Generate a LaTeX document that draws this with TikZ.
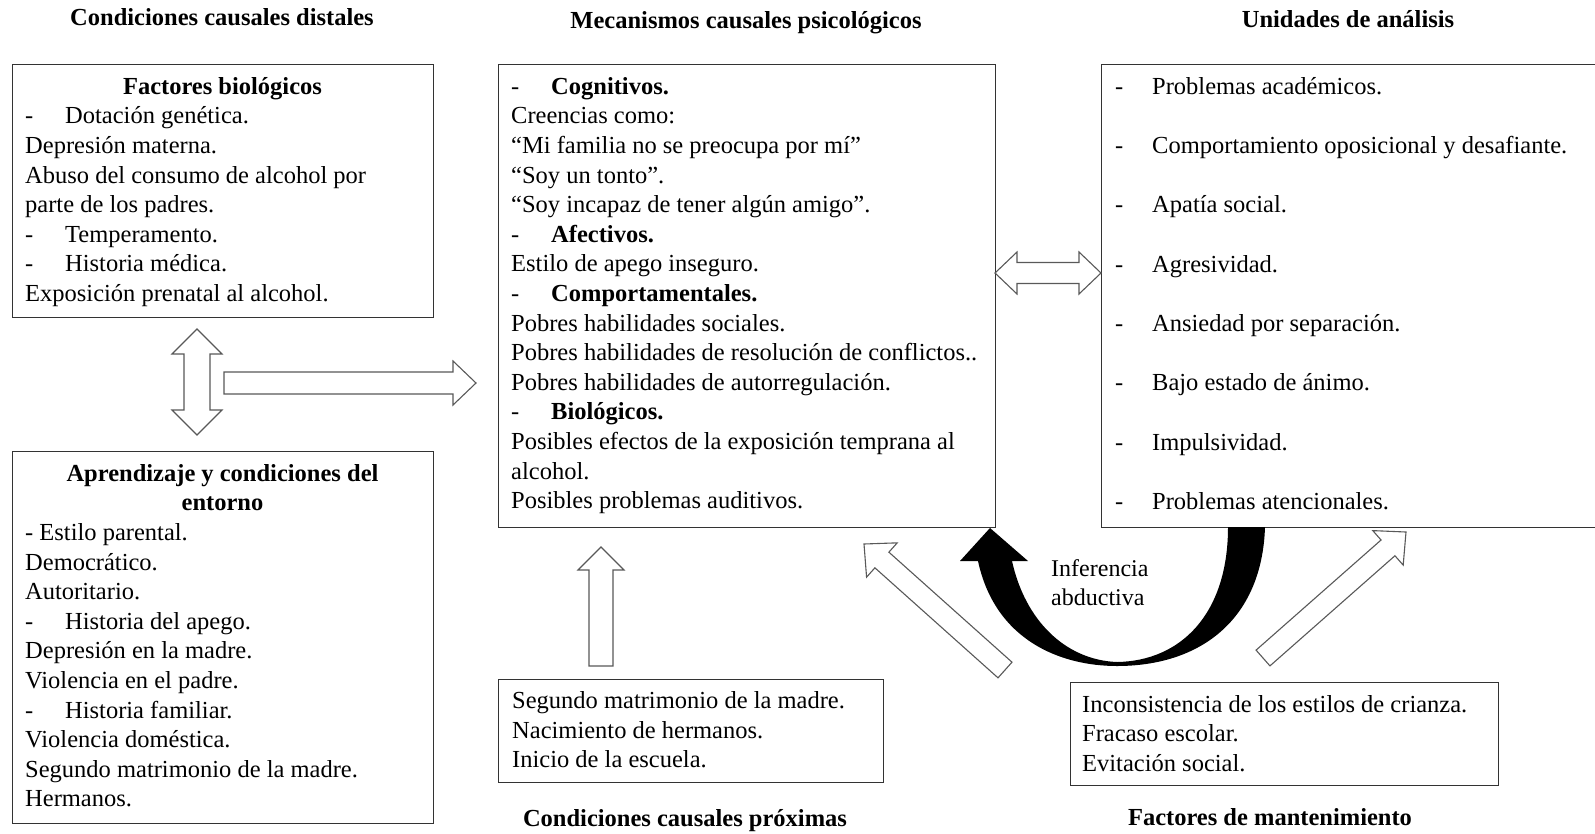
\documentclass[tikz,border=0pt]{standalone}
\usepackage{fontspec}
\setmainfont{Liberation Serif}
\usetikzlibrary{calc}
\newcommand{\fsz}{\fontsize{24.5}{29.6}\selectfont}
\newcommand{\fszw}{\fontsize{24.5}{59.3}\selectfont}
\newcommand{\dsh}{\makebox[40pt][l]{-}}
\newcommand{\dshw}{\makebox[37pt][l]{-}}
\newcommand{\fst}{\rule{0pt}{20pt}}
% single block arrow: tail, tip, shaft half width, head half width, head length
\newcommand{\sarrow}[5]{%
  \path let \p1=(#1), \p2=(#2) in \pgfextra{%
    \pgfmathsetmacro\baang{atan2(\y2-\y1,\x2-\x1)}%
    \pgfmathsetmacro\balen{veclen(\x2-\x1,\y2-\y1)}%
    \global\let\baangG\baang \global\let\balenG\balen};
  \begin{scope}[shift={(#1)},rotate=\baangG]
    \draw[barrow] (0,#3) -- ({\balenG-#5},#3) -- ({\balenG-#5},#4) -- (\balenG,0)
      -- ({\balenG-#5},-#4) -- ({\balenG-#5},-#3) -- (0,-#3) -- cycle;
  \end{scope}}
% double block arrow
\newcommand{\dblarrow}[5]{%
  \path let \p1=(#1), \p2=(#2) in \pgfextra{%
    \pgfmathsetmacro\baang{atan2(\y2-\y1,\x2-\x1)}%
    \pgfmathsetmacro\balen{veclen(\x2-\x1,\y2-\y1)}%
    \global\let\baangG\baang \global\let\balenG\balen};
  \begin{scope}[shift={(#1)},rotate=\baangG]
    \draw[barrow] (0,0) -- (#5,#4) -- (#5,#3) -- ({\balenG-#5},#3) -- ({\balenG-#5},#4)
      -- (\balenG,0) -- ({\balenG-#5},-#4) -- ({\balenG-#5},-#3) -- (#5,-#3) -- (#5,-#4) -- cycle;
  \end{scope}}
\tikzset{
  boxst/.style={draw=black!80, line width=1.3pt, rectangle, inner sep=0pt, anchor=north west},
  txt/.style={inner sep=0pt, anchor=north west, align=left, font=\fsz},
  ttl/.style={inner sep=0pt, anchor=base, font=\fsz\bfseries},
  barrow/.style={draw=black!65, line width=1.1pt, fill=white, line join=miter},
}
\begin{document}
\begin{tikzpicture}[x=1pt,y=-1pt]
\useasboundingbox (0,0) rectangle (1595,833);
\clip (0,0) rectangle (1595,833);
\fill[white] (0,0) rectangle (1595,833);

% titles
\node[ttl] (h1) at (222,25) {Condiciones causales distales};
\node[ttl] (h2) at (746,28) {Mecanismos causales psicológicos};
\node[ttl] (h3) at (1348,27) {Unidades de análisis};
\node[ttl] (h4) at (685,826) {Condiciones causales próximas};
\node[ttl] (h5) at (1270,825) {Factores de mantenimiento};

% boxes
\node[boxst, minimum width=421pt, minimum height=253pt] (b1) at (12,64) {};
\node[boxst, minimum width=497pt, minimum height=463pt] (b2) at (498,64) {};
\node[boxst, minimum width=520pt, minimum height=463pt] (b3) at (1101,64) {};
\node[boxst, minimum width=421pt, minimum height=372pt] (b4) at (12,451) {};
\node[boxst, minimum width=385pt, minimum height=103pt] (b5) at (498,679) {};
\node[boxst, minimum width=428pt, minimum height=103pt] (b6) at (1070,682) {};

% box 1
\node[ttl] (t1h) at (222.5,94) {Factores biológicos};
\node[txt] (t1) at (25,103.6) {\fst\dsh Dotación genética.\\
Depresión materna.\\
Abuso del consumo de alcohol por\\
parte de los padres.\\
\dsh Temperamento.\\
\dsh Historia médica.\\
Exposición prenatal al alcohol.};

% box 2
\node[txt] (t2) at (511,74) {\fst\dsh\textbf{Cognitivos.}\\
Creencias como:\\
“Mi familia no se preocupa por mí”\\
“Soy un tonto”.\\
“Soy incapaz de tener algún amigo”.\\
\dsh\textbf{Afectivos.}\\
Estilo de apego inseguro.\\
\dsh\textbf{Comportamentales.}\\
Pobres habilidades sociales.\\
Pobres habilidades de resolución de conflictos..\\
Pobres habilidades de autorregulación.\\
\dsh\textbf{Biológicos.}\\
Posibles efectos de la exposición temprana al\\
alcohol.\\
Posibles problemas auditivos.};

% box 3
\node[txt, font=\fszw] (t3) at (1115,74) {\fst\dshw Problemas académicos.\\
\dshw Comportamiento oposicional y desafiante.\\
\dshw Apatía social.\\
\dshw Agresividad.\\
\dshw Ansiedad por separación.\\
\dshw Bajo estado de ánimo.\\
\dshw Impulsividad.\\
\dshw Problemas atencionales.};

% box 4
\node[ttl, anchor=north, align=center, font=\fsz\bfseries] (t4h) at (222.5,461) {\fst Aprendizaje y condiciones del\\ entorno};
\node[txt] (t4) at (25,520.2) {\fst- Estilo parental.\\
Democrático.\\
Autoritario.\\
\dsh Historia del apego.\\
Depresión en la madre.\\
Violencia en el padre.\\
\dsh Historia familiar.\\
Violencia doméstica.\\
Segundo matrimonio de la madre.\\
Hermanos.};

% box 5
\node[txt] (t5) at (512,688.5) {\fst Segundo matrimonio de la madre.\\
Nacimiento de hermanos.\\
Inicio de la escuela.};

% box 6
\node[txt] (t6) at (1082,692) {\fst Inconsistencia de los estilos de crianza.\\
Fracaso escolar.\\
Evitación social.};

% block arrows
\coordinate (va1) at (197,329); \coordinate (va2) at (197,435);
\dblarrow{va1}{va2}{13}{25}{25}
\coordinate (ha1) at (224,383); \coordinate (ha2) at (476,383);
\sarrow{ha1}{ha2}{11}{22}{23}
\coordinate (da1) at (995,273); \coordinate (da2) at (1101,273);
\dblarrow{da1}{da2}{10.5}{21}{22}
\coordinate (ua1) at (601,666); \coordinate (ua2) at (601,547);
\sarrow{ua1}{ua2}{12}{23}{23}
\coordinate (la1) at (1005,670); \coordinate (la2) at (864,544);
\sarrow{la1}{la2}{10.5}{23}{24}
\coordinate (ra1) at (1263,658); \coordinate (ra2) at (1406,532);
\sarrow{ra1}{ra2}{10.5}{23}{24}

% curved black arrow (abductive inference)
\fill[black] (978,561) .. controls (995,640) and (1060,666) .. (1117,666)
  .. controls (1200,666) and (1262,620) .. (1265,527) -- (1228,527)
  .. controls (1228,615) and (1180,661) .. (1117,662)
  .. controls (1065,660) and (1025,620) .. (1012,561)
  -- (1028,561) -- (990,528) -- (960,561) -- cycle;
\node[txt, font={\fontsize{24}{29}\selectfont}] (inf) at (1051,556) {\fst Inferencia\\ abductiva};
\end{tikzpicture}
\end{document}
